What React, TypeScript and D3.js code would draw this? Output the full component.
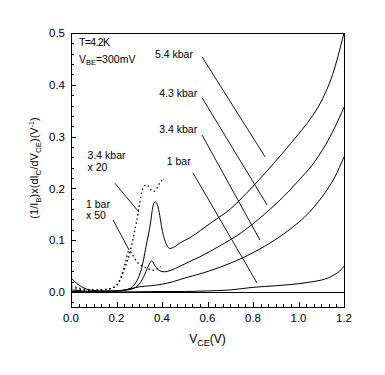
import React from "react";
import * as d3 from "d3";

// ---- Data ----
const x54 = [0, 0.03, 0.06, 0.1, 0.15, 0.2, 0.24, 0.27, 0.29, 0.31, 0.33, 0.35, 0.36, 0.37, 0.38, 0.39, 0.4, 0.41, 0.42, 0.435, 0.45, 0.48, 0.52, 0.57, 0.62, 0.7, 0.77, 0.85, 0.93, 1.0, 1.05, 1.1, 1.15, 1.2];
const y54 = [0.027, 0.015, 0.007, 0.003, 0.002, 0.002, 0.004, 0.01, 0.022, 0.045, 0.088, 0.135, 0.165, 0.174, 0.168, 0.148, 0.122, 0.103, 0.091, 0.084, 0.086, 0.095, 0.104, 0.119, 0.135, 0.16, 0.19, 0.228, 0.268, 0.305, 0.333, 0.368, 0.42, 0.5];

const x43 = [0, 0.05, 0.1, 0.2, 0.25, 0.28, 0.3, 0.32, 0.34, 0.355, 0.37, 0.39, 0.41, 0.44, 0.48, 0.523, 0.567, 0.65, 0.75, 0.85, 0.963, 1.0, 1.06, 1.12, 1.16, 1.2];
const y43 = [0.004, 0.002, 0.001, 0.002, 0.004, 0.008, 0.015, 0.03, 0.05, 0.06, 0.05, 0.041, 0.039, 0.042, 0.05, 0.059, 0.068, 0.088, 0.115, 0.15, 0.197, 0.215, 0.245, 0.285, 0.318, 0.357];

const x34 = [0, 0.1, 0.2, 0.26, 0.3, 0.35, 0.4, 0.45, 0.5, 0.567, 0.65, 0.75, 0.85, 0.95, 1.05, 1.125, 1.16, 1.2];
const y34 = [0.001, 0.001, 0.002, 0.006, 0.01, 0.012, 0.015, 0.02, 0.027, 0.035, 0.047, 0.065, 0.088, 0.117, 0.155, 0.197, 0.222, 0.261];

const x1 = [0, 0.2, 0.4, 0.5, 0.6, 0.7, 0.8, 0.9, 1.0, 1.05, 1.1, 1.13, 1.16, 1.18, 1.2];
const y1 = [0, 0, 0.001, 0.001, 0.002, 0.004, 0.009, 0.012, 0.016, 0.019, 0.023, 0.027, 0.034, 0.04, 0.05];

const x34x20 = [0, 0.05, 0.1, 0.15, 0.18, 0.2, 0.22, 0.24, 0.26, 0.289, 0.318, 0.333, 0.35, 0.362, 0.377, 0.39, 0.4];
const y34x20 = [0.012, 0.006, 0.004, 0.005, 0.008, 0.013, 0.028, 0.05, 0.078, 0.138, 0.202, 0.207, 0.198, 0.194, 0.2, 0.21, 0.216];

const x1x50 = [0, 0.05, 0.1, 0.15, 0.2, 0.22, 0.24, 0.255, 0.27, 0.29, 0.31, 0.333, 0.362, 0.38, 0.395];
const y1x50 = [0.008, 0.004, 0.003, 0.004, 0.012, 0.028, 0.058, 0.08, 0.072, 0.058, 0.051, 0.046, 0.042, 0.045, 0.049];

const xTicks = [0, 0.2, 0.4, 0.6, 0.8, 1.0, 1.2];
const yTicks = [0, 0.1, 0.2, 0.3, 0.4, 0.5];

// annotation labels [x, y(baseline)] in data units
const labels: { t: string; x: number; y: number }[] = [
  { t: "5.4 kbar", x: 0.369, y: 0.452 },
  { t: "4.3 kbar", x: 0.388, y: 0.377 },
  { t: "3.4 kbar", x: 0.388, y: 0.307 },
  { t: "1 bar", x: 0.421, y: 0.245 },
  { t: "3.4 kbar", x: 0.073, y: 0.257 },
  { t: "x 20", x: 0.073, y: 0.233 },
  { t: "1 bar", x: 0.066, y: 0.162 },
  { t: "x 50", x: 0.066, y: 0.141 },
];
// leader lines [x1, y1, x2, y2] in data units
const leaders = [
  [0.576, 0.454, 0.853, 0.261],
  [0.576, 0.375, 0.862, 0.168],
  [0.576, 0.303, 0.831, 0.1],
  [0.536, 0.23, 0.818, 0.017],
  [0.193, 0.21, 0.299, 0.154],
  [0.185, 0.139, 0.255, 0.081],
];

const W = 385;
const H = 375;
const L = 71, R = 344, T = 33, B = 307;
const FONT = "'Liberation Sans', Arial, sans-serif";

export default function App() {
  const x = d3.scaleLinear().domain([0, 1.2]).range([L, R]);
  const y = d3.scaleLinear().domain([-0.029, 0.5]).range([B, T]);

  const line = d3
    .line<[number, number]>()
    .x((d) => x(d[0]))
    .y((d) => y(d[1]))
    .curve(d3.curveMonotoneX);

  const zip = (xs: number[], ys: number[]) => xs.map((v, i) => [v, ys[i]] as [number, number]);

  const solid = [zip(x54, y54), zip(x43, y43), zip(x34, y34), zip(x1, y1)];
  const dotted = [zip(x34x20, y34x20), zip(x1x50, y1x50)];

  const xMinor = d3.range(0, 37).map((k) => (k * 0.2) / 6).filter((_, k) => k % 6 !== 0);
  const yMinor = d3.range(-1, 26).map((k) => k * 0.02).filter((v) => Math.abs(Math.round(v * 10) - v * 10) > 1e-6 && v >= -0.029);

  return (
    <svg width={W} height={H} style={{ position: "absolute", left: 0, top: 0, background: "#fff" }} fontFamily={FONT}>
      <rect x={0} y={0} width={W} height={H} fill="#fff" />
      {/* zero line */}
      <line x1={x(0)} x2={x(1.2)} y1={Math.round(y(0)) + 0.5} y2={Math.round(y(0)) + 0.5} stroke="#000" strokeWidth={1} />
      {solid.map((d, i) => (
        <path key={"s" + i} d={line(d) || ""} fill="none" stroke="#000" strokeWidth={1} />
      ))}
      {dotted.map((d, i) => (
        <path key={"d" + i} d={line(d) || ""} fill="none" stroke="#000" strokeWidth={1.3} strokeDasharray="1.5,2.8" />
      ))}
      {leaders.map((l, i) => (
        <line key={"l" + i} x1={x(l[0])} y1={y(l[1])} x2={x(l[2])} y2={y(l[3])} stroke="#000" strokeWidth={0.9} />
      ))}
      {/* frame */}
      <rect x={L + 0.5} y={T + 0.5} width={R - L} height={B - T} fill="none" stroke="#000" strokeWidth={1} />
      {/* ticks */}
      {xTicks.map((v) => (
        <line key={"xt" + v} x1={Math.round(x(v)) + 0.5} x2={Math.round(x(v)) + 0.5} y1={B} y2={B - 5} stroke="#000" />
      ))}
      {xMinor.map((v, i) => (
        <line key={"xm" + i} x1={Math.round(x(v)) + 0.5} x2={Math.round(x(v)) + 0.5} y1={B} y2={B - 3} stroke="#000" />
      ))}
      {yTicks.map((v) => (
        <line key={"yt" + v} x1={L} x2={L + 5} y1={Math.round(y(v)) + 0.5} y2={Math.round(y(v)) + 0.5} stroke="#000" />
      ))}
      {yMinor.map((v, i) => (
        <line key={"ym" + i} x1={L} x2={L + 3} y1={Math.round(y(v)) + 0.5} y2={Math.round(y(v)) + 0.5} stroke="#000" />
      ))}
      {/* tick labels */}
      {xTicks.map((v) => (
        <text key={"xl" + v} x={x(v)} y={B + 15} fontSize={11.5} textAnchor="middle">
          {v.toFixed(1)}
        </text>
      ))}
      {yTicks.map((v) => (
        <text key={"yl" + v} x={L - 6} y={y(v)} dy="0.36em" fontSize={11.5} textAnchor="end">
          {v.toFixed(1)}
        </text>
      ))}
      {/* axis titles */}
      <text x={(L + R) / 2} y={343} fontSize={12} textAnchor="middle">
        V<tspan fontSize={9} dy={3}>CE</tspan>
        <tspan dy={-3}>(V)</tspan>
      </text>
      <text transform={`translate(38, 168) rotate(-90)`} fontSize={11} textAnchor="middle">
        (1/I<tspan fontSize={8} dy={3}>B</tspan>
        <tspan dy={-3}>)x(dI</tspan>
        <tspan fontSize={8} dy={3}>C</tspan>
        <tspan dy={-3}>/dV</tspan>
        <tspan fontSize={8} dy={3}>CE</tspan>
        <tspan dy={-3}>)(V</tspan>
        <tspan fontSize={7} dy={-4}>-1</tspan>
        <tspan dy={4}>)</tspan>
      </text>
      {/* in-plot texts */}
      <text x={x(0.035)} y={y(0.475)} fontSize={10.5} letterSpacing={-0.6}>
        T=4.2K
      </text>
      <text x={x(0.035)} y={y(0.442)} fontSize={10.5}>
        V<tspan fontSize={7.5} dy={2}>BE</tspan>
        <tspan dy={-2}>=300mV</tspan>
      </text>
      {labels.map((l, i) => (
        <text key={"lb" + i} x={x(l.x)} y={y(l.y)} fontSize={10.5}>
          {l.t}
        </text>
      ))}
    </svg>
  );
}
